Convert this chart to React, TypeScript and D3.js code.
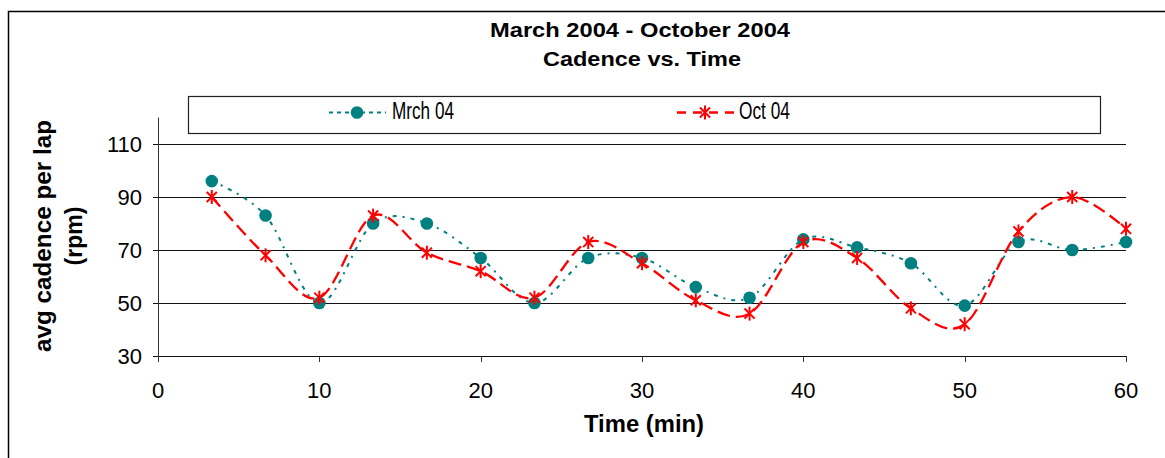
import * as d3 from "d3";

const lapMinutes = d3.range(1, 19).map((i) => (i * 10) / 3);
const mrch04 = [96, 83, 50, 80, 80, 67, 50, 67, 67, 56, 52, 74, 71, 65, 49, 73, 70, 73];
const oct04 = [90, 68, 52, 83, 69, 62, 52, 73, 65, 51, 46, 73, 67, 48, 42, 77, 90, 78];
const xTicks = [0, 10, 20, 30, 40, 50, 60];
const yTicks = [30, 50, 70, 90, 110];

const TEAL = "#008080";
const RED = "#ff0000";
const FONT = "Arial, 'Liberation Sans', sans-serif";

export default function App() {
  const width = 1165;
  const height = 458;
  const plot = { left: 158, right: 1126, top: 117.5, bottom: 356 };

  const x = d3.scaleLinear().domain([0, 60]).range([plot.left, plot.right]);
  const y = d3.scaleLinear().domain([30, 120]).range([plot.bottom, plot.top]);
  const crisp = (v: number) => Math.round(v) + 0.5;

  const line = d3
    .line<number>()
    .x((_d, i) => x(lapMinutes[i]))
    .y((d) => y(d))
    .curve(d3.curveCardinal.tension(0));

  const star = (cx: number, cy: number, key: string | number) => {
    const r = 7;
    const d = r * 0.72;
    return (
      <g key={key} stroke={RED} strokeWidth={2}>
        <line x1={cx} y1={cy - r} x2={cx} y2={cy + r} />
        <line x1={cx - d} y1={cy - d} x2={cx + d} y2={cy + d} />
        <line x1={cx - d} y1={cy + d} x2={cx + d} y2={cy - d} />
      </g>
    );
  };

  return (
    <svg
      width={width}
      height={height}
      style={{ position: "absolute", left: 0, top: 0, background: "#fff" }}
      fontFamily={FONT}
    >
      <rect x={8.5} y={11.5} width={1200} height={500} fill="#fff" stroke="#000" strokeWidth={1.5} />

      <text x={640} y={37} textAnchor="middle" fontSize={20} fontWeight="bold" textLength={300} lengthAdjust="spacingAndGlyphs">
        March 2004 - October 2004
      </text>
      <text x={642} y={66} textAnchor="middle" fontSize={20} fontWeight="bold" textLength={198} lengthAdjust="spacingAndGlyphs">
        Cadence vs. Time
      </text>

      {/* gridlines + y ticks */}
      {yTicks.map((t) => (
        <g key={t}>
          <line x1={plot.left - 5} x2={plot.right} y1={crisp(y(t))} y2={crisp(y(t))} stroke="#111" strokeWidth={1} />
          <text x={142} y={y(t) + 8} textAnchor="end" fontSize={22}>
            {t}
          </text>
        </g>
      ))}
      <line x1={plot.left + 0.5} x2={plot.left + 0.5} y1={plot.top} y2={plot.bottom + 6} stroke="#333" strokeWidth={1} />
      {xTicks.map((t) => (
        <g key={t}>
          <line x1={crisp(x(t))} x2={crisp(x(t))} y1={plot.bottom} y2={plot.bottom + 6} stroke="#333" strokeWidth={1} />
          <text x={x(t)} y={398} textAnchor="middle" fontSize={22}>
            {t}
          </text>
        </g>
      ))}

      <text x={644} y={432} textAnchor="middle" fontSize={23} fontWeight="bold" textLength={120} lengthAdjust="spacingAndGlyphs">
        Time (min)
      </text>
      <g transform="translate(51,236) rotate(-90)">
        <text x={0} y={0} textAnchor="middle" fontSize={23} fontWeight="bold" textLength={232} lengthAdjust="spacingAndGlyphs">
          avg cadence per lap
        </text>
        <text x={0} y={31} textAnchor="middle" fontSize={23} fontWeight="bold">
          (rpm)
        </text>
      </g>

      {/* series */}
      <path d={line(mrch04) ?? ""} fill="none" stroke={TEAL} strokeWidth={2} strokeDasharray="4,6,2,6" />
      <path d={line(oct04) ?? ""} fill="none" stroke={RED} strokeWidth={2.3} strokeDasharray="13,6" />
      {mrch04.map((v, i) => (
        <circle key={i} cx={x(lapMinutes[i])} cy={y(v)} r={6.3} fill={TEAL} />
      ))}
      {oct04.map((v, i) => star(x(lapMinutes[i]), y(v), i))}

      {/* legend */}
      <rect x={188.5} y={96.5} width={912} height={37} fill="#fff" stroke="#222" strokeWidth={1.2} />
      <line x1={329} x2={386} y1={112.5} y2={112.5} stroke={TEAL} strokeWidth={2} strokeDasharray="4,4" />
      <circle cx={357} cy={112.5} r={6.3} fill={TEAL} />
      <text x={392} y={119} fontSize={23} textLength={62} lengthAdjust="spacingAndGlyphs">
        Mrch 04
      </text>
      <line x1={677} x2={735} y1={112.5} y2={112.5} stroke={RED} strokeWidth={2.3} strokeDasharray="9,7" />
      {star(705, 112.5, "leg")}
      <text x={739} y={119} fontSize={23} textLength={51} lengthAdjust="spacingAndGlyphs">
        Oct 04
      </text>
    </svg>
  );
}
